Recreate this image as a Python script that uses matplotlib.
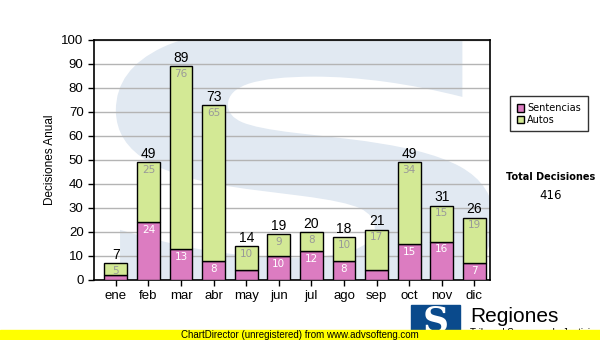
import numpy as np
import matplotlib
matplotlib.use('Agg')
import matplotlib.pyplot as plt
from matplotlib.patches import Rectangle, PathPatch
from matplotlib.textpath import TextPath
from matplotlib.font_manager import FontProperties
from matplotlib.transforms import Affine2D

meses = ['ene', 'feb', 'mar', 'abr', 'may', 'jun', 'jul', 'ago', 'sep', 'oct', 'nov', 'dic']
sentencias = [2, 24, 13, 8, 4, 10, 12, 8, 4, 15, 16, 7]
autos = [5, 25, 76, 65, 10, 9, 8, 10, 17, 34, 15, 19]
total = sum(sentencias) + sum(autos)

pink = '#dc7cc1'
green = '#d3e995'

plt.rcParams['font.family'] = ['Liberation Sans', 'DejaVu Sans']

fig = plt.figure(figsize=(6, 3.4), dpi=100)
ax = fig.add_axes([94 / 600, 60 / 340, 396 / 600, 240 / 340])

x = np.arange(len(meses))
s = np.array(sentencias)
a = np.array(autos)

# watermark: big light S stretched over the plot area
tp = TextPath((0, 0), 'S', size=1, prop=FontProperties(family='DejaVu Sans', weight='bold'))
ext = tp.get_extents()
sx = 11.6 / ext.width
sy = 118 / ext.height
tr = Affine2D().translate(-ext.x0, -ext.y0).scale(sx, sy).translate(0.0, -12)
wm = PathPatch(tr.transform_path(tp), facecolor='#e1e9f2', edgecolor='none', zorder=0)
ax.add_patch(wm)
wm.set_clip_path(ax.patch)

ax.bar(x, s, width=0.7, color=pink, edgecolor='black', linewidth=1, zorder=3, label='Sentencias')
ax.bar(x, a, width=0.7, bottom=s, color=green, edgecolor='black', linewidth=1, zorder=3, label='Autos')

for i in range(len(meses)):
    if s[i] >= 7:
        ax.text(x[i], s[i] - 1.2, str(s[i]), ha='center', va='top', fontsize=7.5,
                color='white', zorder=4, family='DejaVu Sans')
    ax.text(x[i], s[i] + a[i] - 1.2, str(a[i]), ha='center', va='top', fontsize=7.5,
            color='#999999', zorder=4, family='DejaVu Sans')
    ax.text(x[i], s[i] + a[i] + 0.5, str(s[i] + a[i]), ha='center', va='bottom',
            fontsize=10, color='black', zorder=4)

ax.set_xlim(-0.67, 11.48)
ax.set_ylim(0, 100)
ax.set_yticks(range(0, 101, 10))
ax.set_xticks(x)
ax.set_xticklabels(meses)
ax.tick_params(labelsize=9.5, length=4, width=1)
ax.yaxis.grid(True, color='#b4b4b4', linewidth=1, zorder=1)
ax.set_axisbelow(True)
for sp in ax.spines.values():
    sp.set_linewidth(1.2)
ax.set_ylabel('Decisiones Anual', fontsize=8.5)

leg = ax.legend(loc='upper left', bbox_to_anchor=(1.05, 0.765), frameon=True,
                fancybox=False, edgecolor='black', handlelength=0.8, handleheight=0.8,
                handletextpad=0.3, borderpad=0.7, labelspacing=0.15, borderaxespad=0,
                prop={'family': 'DejaVu Sans', 'size': 7})
leg.get_frame().set_linewidth(1)
for h in leg.legend_handles:
    h.set_edgecolor('black')

fig.text(551 / 600, 1 - 177 / 340, 'Total Decisiones', ha='center', va='center',
         fontsize=7, fontweight='bold', family='DejaVu Sans')
fig.text(551 / 600, 1 - 196 / 340, str(total), ha='center', va='center',
         fontsize=8.5, family='DejaVu Sans')

# logo
fig.patches.append(Rectangle((411 / 600, 0), 49 / 600, 35 / 340, transform=fig.transFigure,
                             color='#0a4a8c', zorder=1))
fig.text(436 / 600, 18 / 340, 'S', ha='center', va='center', fontsize=26, fontweight='bold',
         color='white', family='DejaVu Serif')
fig.text(470 / 600, 24 / 340, 'Regiones', ha='left', va='center', fontsize=15, color='black')
fig.text(470 / 600, 7 / 340, 'Tribunal Supremo de Justicia', ha='left', va='center', fontsize=7, color='black')

# yellow banner
fig.patches.append(Rectangle((0, 0), 1, 10 / 340, transform=fig.transFigure,
                             color='#ffff00', zorder=5))
fig.text(300 / 600, 5 / 340, 'ChartDirector (unregistered) from www.advsofteng.com',
         ha='center', va='center', fontsize=7, color='black', zorder=6)

fig.savefig('out.png', dpi=100)
